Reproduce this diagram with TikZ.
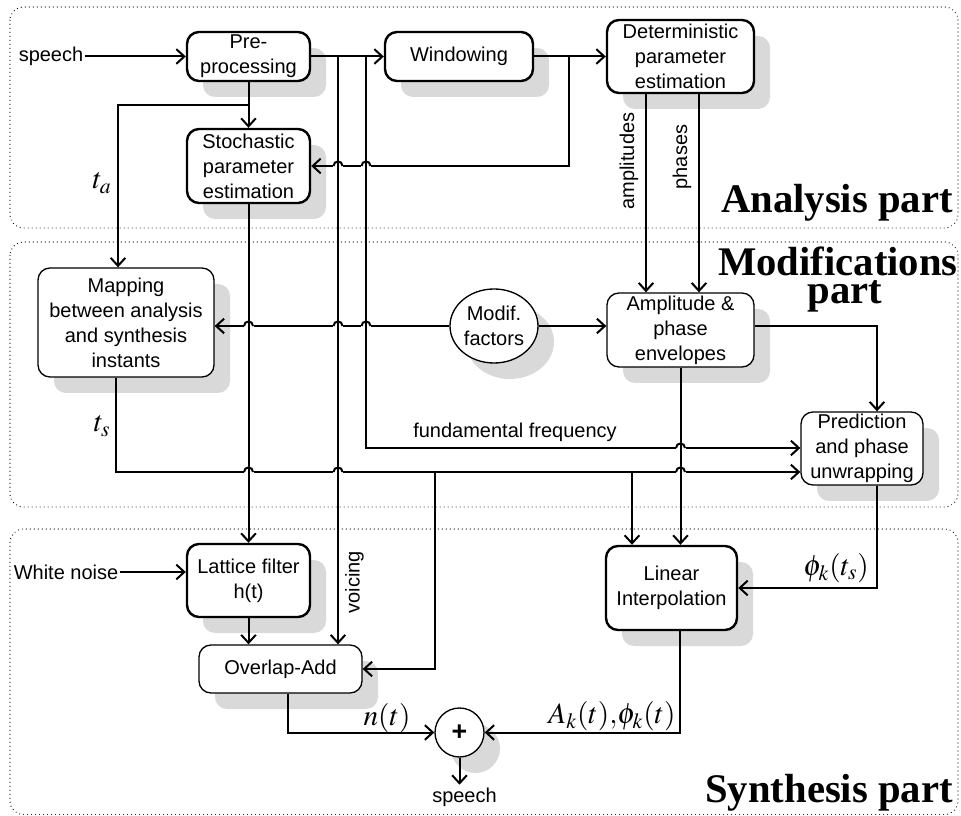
\documentclass[tikz,border=0pt]{standalone}
\usepackage{mathptmx}
\usepackage[no-math]{fontspec}
\setmainfont{Liberation Sans}
\newfontfamily\serifbold{Liberation Serif}
\usetikzlibrary{arrows.meta,shapes.geometric,shadows,calc}
\definecolor{shadowgray}{RGB}{217,217,217}
\newcommand{\bodyfont}{\fontsize{15}{18.75}\selectfont}
\newcommand{\hopat}[2]{%
  \fill[white] ({#1-5},{#2-2}) rectangle ({#1+5},{#2+2});
  \draw[conn] ({#1-4.5},#2) .. controls ({#1-4.5},{#2-6}) and ({#1+4.5},{#2-6}) .. ({#1+4.5},#2);}
\begin{document}
\begin{tikzpicture}[x=0.75pt,y=-0.75pt,
  box/.style={draw, rounded corners=9pt, align=center, inner sep=1pt, font=\bodyfont, fill=white,
    general shadow={fill=shadowgray, draw=none, shadow xshift=12pt, shadow yshift=-12pt}},
  thickbox/.style={box, line width=1.8pt},
  thinbox/.style={box, line width=1pt},
  conn/.style={line width=1.5pt},
  arr/.style={conn, -{Straight Barb[length=6pt,width=11pt]}},
  lbl/.style={font=\bodyfont, inner sep=1pt},
  mathlbl/.style={font=\fontsize{22}{26}\selectfont, inner sep=0pt},
  title/.style={font=\serifbold\bfseries\fontsize{30.5}{32}\selectfont, inner sep=0pt},
  panel/.style={line width=0.9pt, dash pattern=on 0pt off 3pt, line cap=round, rounded corners=10pt}]
\useasboundingbox (0,0) rectangle (961,816);

% panels
\draw[panel] (10,7) rectangle (958,228);
\draw[panel] (10,242) rectangle (958,507);
\draw[panel] (10,529) rectangle (958,814.5);

% titles
\node[title, anchor=base east] (tan) at (953,213) {Analysis part};
\node[title, anchor=base] (tmo) at (838,276) {Modifications};
\node[title, anchor=base] (tmp) at (845,304) {part};
\node[title, anchor=base east] (tsy) at (953,802) {Synthesis part};

% nodes
\node[thickbox, minimum width=92.25pt, minimum height=36.75pt] (pre) at (248.5,56.5) {Pre-\\processing};
\node[thickbox, minimum width=111pt, minimum height=36.75pt] (win) at (459,56.5) {Windowing};
\node[thickbox, minimum width=110.25pt, minimum height=54.75pt] (det) at (680.5,56.5) {Deterministic\\parameter\\estimation};
\node[thickbox, minimum width=92.25pt, minimum height=55.5pt] (sto) at (248.5,166) {Stochastic\\parameter\\estimation};
\node[thinbox, minimum width=132pt, minimum height=81.75pt] (map) at (126,322.5) {Mapping\\between analysis\\and synthesis\\instants};
\node[thinbox, ellipse, inner sep=0pt, minimum width=66pt, minimum height=55.5pt] (mod) at (494,326) {Modif.\\factors};
\node[thinbox, minimum width=110.25pt, minimum height=55.5pt] (amp) at (680.5,330) {Amplitude \&\\phase\\envelopes};
\node[thinbox, minimum width=91.5pt, minimum height=54.75pt] (pred) at (862,448.5) {Prediction\\and phase\\unwrapping};
\node[thickbox, minimum width=92.25pt, minimum height=54.75pt] (lat) at (248.5,580.5) {Lattice filter\\h(t)};
\node[thinbox, minimum width=122.25pt, minimum height=36pt] (ola) at (280.5,669) {Overlap-Add};
\node[thickbox, minimum width=98.25pt, minimum height=63pt] (lin) at (671.5,588) {Linear\\Interpolation};
\node[thinbox, circle, inner sep=0pt, minimum size=36.75pt] (sum) at (459.5,732.5) {\fontsize{20}{20}\selectfont\bfseries +};

% plain labels
\node[lbl] (sp1) at (51,56.5) {speech};
\node[lbl] (wn) at (66,572) {White noise};
\node[lbl] (sp2) at (464.5,797) {speech};
\node[lbl, rotate=90] (lampl) at (629,161) {amplitudes};
\node[lbl, rotate=90] (lphas) at (682,157) {phases};
\node[lbl, rotate=90] (lvoic) at (354.5,582) {voicing};
\node[lbl] (lf0) at (515,432) {fundamental frequency};
\node[mathlbl] (ta) at (102,183) {$t_a$};
\node[mathlbl] (ts) at (102,426) {$t_s$};
\node[mathlbl] (nt) at (387,718) {$n(t)$};
\node[mathlbl] (akt) at (612,716) {$A_k(t){,}\phi_k(t)$};
\node[mathlbl] (pks) at (836,568) {$\phi_k(t_s)$};

% branch coordinates
\coordinate (vb) at (338,56.5);
\coordinate (fb) at (366,56.5);
\coordinate (fc) at (366,448);
\coordinate (wb) at (569,56.5);
\coordinate (tab) at (248.5,105);
\coordinate (tb1) at (435,472);
\coordinate (tb2) at (632,472);

% analysis connectors
\draw[arr] (sp1.east) -- (pre.west);
\draw[arr] (pre.east) -- (win.west);
\draw[arr] (win.east) -- (det.west);
\draw[arr] (pre.south) -- (sto.north);
\draw[arr] (tab) -| ([xshift=-6pt]map.north);
\draw[arr] ([xshift=-25.875pt]det.south) -- ([xshift=-25.875pt]amp.north);
\draw[arr] ([xshift=13.875pt]det.south) -- ([xshift=13.875pt]amp.north);

% horizontal connectors that hop
\draw[arr] (wb) |- (sto.east);
\draw[arr] (mod.west) -- (mod.west -| map.east);
\draw[arr] ([xshift=-7.5pt]map.south) |- ([yshift=-17.6pt]pred.west);
\hopat{338}{166}
\hopat{366}{166}
\hopat{248.5}{326}
\hopat{338}{326}
\hopat{366}{326}
\hopat{248.5}{472}
\hopat{338}{472}
\hopat{680.5}{472}

\draw[arr] (fb) -- (fc) -- (fc -| pred.west);
\hopat{680.5}{448}

% vertical connectors that are hopped over
\draw[arr] (sto.south) -- (lat.north);
\draw[arr] (vb) -- (vb |- ola.north);
\draw[arr] (amp.south) -- (amp.south |- lin.north);

% modification connectors
\draw[arr] (mod.east) -- (mod.east -| amp.west);
\draw[arr] (mod.east -| amp.east) -| ([xshift=11.25pt]pred.north);
\draw[arr] (tb1) |- (ola.east);
\draw[arr] (tb2) -- (tb2 |- lin.north);
\draw[arr] ([xshift=11.25pt]pred.south) |- (lin.east);

% synthesis connectors
\draw[arr] (wn.east) -- (wn.east -| lat.west);
\draw[arr] (lat.south) -- (lat.south |- ola.north);
\draw[arr] ([xshift=5.6pt]ola.south) |- (sum.west);
\draw[arr] ([xshift=6.4pt]lin.south) |- (sum.east);
\draw[arr] (sum.south) -- ([yshift=1pt]sp2.north -| sum.south);
\end{tikzpicture}
\end{document}
